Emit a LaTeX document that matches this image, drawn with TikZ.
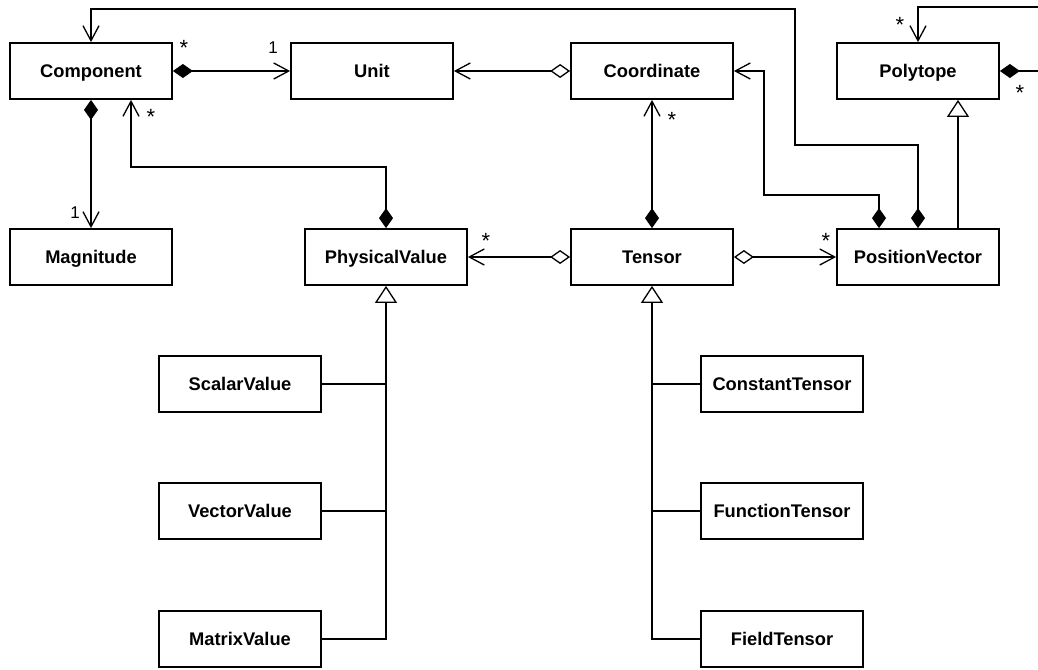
\documentclass[tikz,border=0pt]{standalone}
\usepackage{fontspec}
\setmainfont{Liberation Sans}
\usetikzlibrary{arrows.meta}
\begin{document}
\begin{tikzpicture}[x=1pt,y=-1pt,
  cls/.style={draw, line width=1.8pt, minimum width=162pt, minimum height=56pt, inner sep=0pt,
    text height=13pt, text depth=0pt, font=\fontsize{18.3}{20}\selectfont\bfseries},
  link/.style={line width=1.3pt},
  compo/.style={link, arrows={Diamond[length=20pt,width=14pt]-Straight Barb[length=15pt,width=16pt]}},
  aggr/.style={link, arrows={Diamond[length=20pt,width=14pt,fill=white]-Straight Barb[length=15pt,width=16pt]}},
  inh/.style={link, arrows={-Triangle[length=17pt,width=22pt,fill=white]}},
  gen/.style={link},
  mult/.style={inner sep=0pt, font=\fontsize{17}{18}\selectfont},
  star/.style={inner sep=0pt, font=\fontsize{22}{22}\selectfont}]
\clip (0,0) rectangle (1038,669);

% classes
\node[cls] (comp)   at (91,71)  {Component};
\node[cls] (unit)   at (372,71) {Unit};
\node[cls] (coord)  at (652,71) {Coordinate};
\node[cls] (poly)   at (918,71) {Polytope};
\node[cls] (mag)    at (91,257) {Magnitude};
\node[cls] (pv)     at (386,257) {PhysicalValue};
\node[cls] (tensor) at (652,257) {Tensor};
\node[cls] (posv)   at (918,257) {PositionVector};
\node[cls] (scalar) at (240,384) {ScalarValue};
\node[cls] (vector) at (240,511) {VectorValue};
\node[cls] (matrix) at (240,639) {MatrixValue};
\node[cls] (const)  at (782,384) {ConstantTensor};
\node[cls] (func)   at (782,511) {FunctionTensor};
\node[cls] (field)  at (782,639) {FieldTensor};

% bend points
\coordinate (b4)  at (131,167);
\coordinate (b8)  at (764,195);
\coordinate (b9a) at (795,145);
\coordinate (b9b) at (795,9);
\coordinate (p1)  at (1045,71);
\coordinate (p2)  at (1045,7);

% associations
\draw[compo] (comp.east) -- (unit.west);
\draw[aggr]  (coord.west) -- (unit.east);
\draw[compo] (comp.south) -- (mag.north);
\draw[compo] (pv.north) |- (b4) -- ([xshift=40pt]comp.south);
\draw[compo] (tensor.north) -- (coord.south);
\draw[aggr]  (tensor.west) -- (pv.east);
\draw[aggr]  (tensor.east) -- (posv.west);
\draw[compo] ([xshift=-39pt]posv.north) |- (b8) |- (coord.east);
\draw[compo] (posv.north) |- (b9a) -- (b9b) -| (comp.north);
\draw[compo] (poly.east) -- (p1) -- (p2) -| (poly.north);

% generalisations
\draw[inh] ([xshift=40pt]posv.north) -- ([xshift=40pt]poly.south);
\draw[inh] (matrix.east) -| (pv.south);
\draw[gen] (scalar.east) -- (scalar.east -| pv.south);
\draw[gen] (vector.east) -- (vector.east -| pv.south);
\draw[inh] (field.west) -| (tensor.south);
\draw[gen] (const.west) -- (const.west -| tensor.south);
\draw[gen] (func.west) -- (func.west -| tensor.south);

% multiplicities
\node[star] (m1) at (184,48)  {*};
\node[mult] (m2) at (273,48)  {1};
\node[mult] (m3) at (75,213)  {1};
\node[star] (m4) at (151,117) {*};
\node[star] (m5) at (672,120) {*};
\node[star] (m6) at (486,241) {*};
\node[star] (m7) at (826,241) {*};
\node[star] (m8) at (900,25)  {*};
\node[star] (m9) at (1020,93) {*};
\end{tikzpicture}
\end{document}
